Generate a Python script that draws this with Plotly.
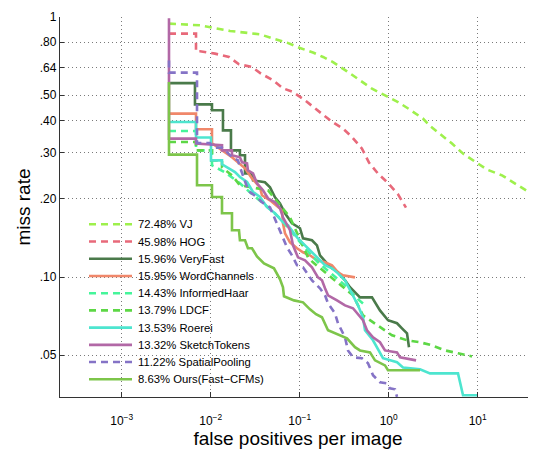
import plotly.graph_objects as go

# ---- data (fppi, miss rate) ----
vj_fppi = [0.0034, 0.00758, 0.01648, 0.0256, 0.0358, 0.0501, 0.072, 0.1008, 0.141, 0.1828, 0.2367, 0.340, 0.476, 0.649, 0.957, 1.272, 1.735, 2.428, 2.911, 3.771, 5.143, 6.84, 9.326, 12.72, 18.76, 24.9, 35.8, 40.7]
vj_miss = [0.943, 0.929, 0.884, 0.868, 0.858, 0.826, 0.797, 0.760, 0.730, 0.702, 0.671, 0.618, 0.571, 0.530, 0.4955, 0.471, 0.440, 0.4066, 0.381, 0.356, 0.326, 0.2983, 0.277, 0.259, 0.246, 0.2313, 0.2142, 0.2099]

hog_fppi = [0.0034, 0.00684, 0.00684, 0.00758, 0.01117, 0.01607, 0.0208, 0.0291, 0.0367, 0.0501, 0.0649, 0.0841, 0.1148, 0.1604, 0.2247, 0.3066, 0.387, 0.501, 0.6007, 0.758, 0.982, 1.272, 1.564]
hog_miss = [0.863, 0.863, 0.738, 0.738, 0.723, 0.702, 0.658, 0.642, 0.606, 0.571, 0.532, 0.5147, 0.478, 0.4377, 0.398, 0.3722, 0.3455, 0.3117, 0.2754, 0.250, 0.2299, 0.208, 0.1849]

veryfast_fppi = [0.0034, 0.00666, 0.00666, 0.01034, 0.01034, 0.01374, 0.01374, 0.0169, 0.0169, 0.0213, 0.0213, 0.0243, 0.0243, 0.0291, 0.0299, 0.0407, 0.0464, 0.0528, 0.0601, 0.0684, 0.0819, 0.1008, 0.109, 0.1374, 0.1564, 0.169, 0.2026, 0.2307, 0.2694, 0.323, 0.3673, 0.476, 0.649, 0.798, 0.982, 1.24, 1.41, 1.606, 1.69]
veryfast_miss = [0.557, 0.557, 0.4614, 0.4614, 0.4377, 0.4377, 0.3665, 0.3665, 0.307, 0.307, 0.294, 0.294, 0.250, 0.250, 0.2355, 0.2313, 0.2213, 0.2026, 0.192, 0.1758, 0.1609, 0.154, 0.1409, 0.1384, 0.1324, 0.1212, 0.1129, 0.108, 0.1043, 0.0971, 0.0913, 0.0835, 0.0835, 0.0744, 0.0682, 0.0664, 0.0635, 0.0607, 0.0537]

wordch_fppi = [0.0034, 0.00684, 0.00684, 0.01034, 0.01034, 0.0134, 0.01735, 0.0243, 0.0291, 0.0358, 0.0377, 0.0464, 0.0633, 0.0649, 0.0684, 0.0778, 0.0933, 0.109, 0.1305, 0.1564, 0.1925, 0.2307, 0.2694, 0.3066, 0.418]
wordch_miss = [0.425, 0.425, 0.370, 0.370, 0.3267, 0.307, 0.2887, 0.2618, 0.2396, 0.2213, 0.2062, 0.1972, 0.1805, 0.1609, 0.1472, 0.136, 0.129, 0.1245, 0.1212, 0.1159, 0.1139, 0.111, 0.1043, 0.1015, 0.0997]

ihaar_fppi = [0.0034, 0.00684, 0.00684, 0.01034, 0.01034, 0.01448, 0.0213, 0.0276, 0.044, 0.0601, 0.0819, 0.1148, 0.1604, 0.219, 0.323, 0.4406, 0.5416]
ihaar_miss = [0.3643, 0.3643, 0.307, 0.307, 0.269, 0.2527, 0.2293, 0.2117, 0.1854, 0.1681, 0.1486, 0.129, 0.1139, 0.1043, 0.0929, 0.0828, 0.0779]

ldcf_fppi = [0.0034, 0.00684, 0.00684, 0.01034, 0.01034, 0.0134, 0.0134, 0.01735, 0.0213, 0.0276, 0.044, 0.0778, 0.1239, 0.141, 0.249, 0.397, 0.514, 0.6663, 1.089, 1.606, 2.247, 3.065, 4.291, 6.007, 8.63]
ldcf_miss = [0.3305, 0.3305, 0.307, 0.307, 0.281, 0.281, 0.2642, 0.246, 0.2253, 0.222, 0.2156, 0.1697, 0.119, 0.1139, 0.0971, 0.0851, 0.0712, 0.0669, 0.0597, 0.0571, 0.0561, 0.0546, 0.0522, 0.0509, 0.0495]

roerei_fppi = [0.0034, 0.00684, 0.00684, 0.01008, 0.01008, 0.0134, 0.0134, 0.01876, 0.0213, 0.0256, 0.0299, 0.0358, 0.0429, 0.0528, 0.0649, 0.074, 0.0933, 0.1061, 0.1239, 0.141, 0.1606, 0.1925, 0.2307, 0.2694, 0.323, 0.3673, 0.4519, 0.514, 0.5416, 0.6663, 0.863, 1.24, 1.448, 2.247, 2.911, 6.007, 6.84, 9.82]
roerei_miss = [0.3947, 0.3947, 0.3438, 0.3438, 0.281, 0.281, 0.2714, 0.2534, 0.2424, 0.2319, 0.2123, 0.2031, 0.1859, 0.1758, 0.1623, 0.158, 0.1421, 0.136, 0.130, 0.1245, 0.118, 0.111, 0.108, 0.1033, 0.0971, 0.0889, 0.0779, 0.070, 0.0624, 0.0571, 0.0487, 0.047, 0.0449, 0.0442, 0.0426, 0.0426, 0.0351, 0.0351]

sketch_fppi = [0.0034, 0.0034, 0.00684, 0.00684, 0.0134, 0.0134, 0.01735, 0.01735, 0.0213, 0.0225, 0.0256, 0.0262, 0.0299, 0.0331, 0.0387, 0.0440, 0.0528, 0.0601, 0.0649, 0.0720, 0.0778, 0.0841, 0.0957, 0.1148, 0.1374, 0.1604, 0.178, 0.1925, 0.208, 0.2625, 0.323, 0.397, 0.4406, 0.514, 0.5705, 0.6663, 0.798, 0.9087, 1.24, 1.34, 2.03]
sketch_miss = [0.99, 0.3405, 0.3405, 0.326, 0.321, 0.307, 0.307, 0.294, 0.2887, 0.276, 0.2737, 0.2573, 0.2505, 0.2293, 0.2156, 0.2008, 0.1938, 0.1837, 0.1697, 0.158, 0.1513, 0.1324, 0.119, 0.1159, 0.109, 0.0997, 0.0971, 0.0905, 0.0850, 0.0813, 0.0778, 0.0758, 0.0725, 0.0682, 0.0624, 0.0586, 0.0561, 0.0522, 0.0513, 0.0491, 0.0478]

spool_fppi = [0.0034, 0.0034, 0.00702, 0.00702, 0.00982, 0.01062, 0.0134, 0.01735, 0.02026, 0.0213, 0.0256, 0.0276, 0.0331, 0.0377, 0.0464, 0.0556, 0.0649, 0.0720, 0.0819, 0.0933, 0.109, 0.1374, 0.169, 0.1925, 0.208, 0.249, 0.2694, 0.323, 0.3489, 0.397, 0.501, 0.5855, 0.6663, 0.798, 0.957, 1.03, 1.177, 1.24]
spool_miss = [0.681, 0.611, 0.611, 0.3275, 0.3275, 0.3145, 0.3145, 0.2894, 0.281, 0.265, 0.222, 0.2123, 0.2026, 0.1938, 0.1854, 0.1609, 0.1409, 0.130, 0.1212, 0.111, 0.109, 0.0971, 0.0905, 0.0851, 0.0792, 0.0725, 0.0664, 0.0586, 0.0522, 0.0491, 0.0487, 0.0466, 0.0419, 0.0394, 0.039, 0.0373, 0.037, 0.0346]

ours_fppi = [0.0034, 0.0034, 0.00702, 0.00702, 0.01034, 0.01034, 0.0134, 0.0134, 0.01735, 0.01735, 0.0208, 0.0213, 0.0243, 0.0262, 0.0291, 0.0331, 0.0397, 0.0514, 0.0601, 0.0649, 0.0666, 0.0863, 0.109, 0.1305, 0.1525, 0.178, 0.208, 0.2625, 0.340, 0.418, 0.476, 0.6165, 0.7018, 0.9087, 0.982, 2.247]
ours_miss = [0.5623, 0.2956, 0.2956, 0.2253, 0.2253, 0.2031, 0.2031, 0.1758, 0.1758, 0.1512, 0.1512, 0.1384, 0.1384, 0.129, 0.129, 0.1201, 0.1129, 0.108, 0.098, 0.0913, 0.0843, 0.0813, 0.0799, 0.0751, 0.0719, 0.070, 0.0624, 0.0602, 0.0581, 0.0537, 0.0522, 0.0513, 0.0478, 0.0457, 0.0438, 0.0438]

legend_names = ["72.48% VJ", "45.98% HOG", "15.96% VeryFast", "15.95% WordChannels",
                "14.43% InformedHaar", "13.79% LDCF", "13.53% Roerei", "13.32% SketchTokens",
                "11.22% SpatialPooling", "8.63% Ours(Fast\u2212CFMs)"]

x_tickvals = [1e-3, 1e-2, 1e-1, 1, 10]
x_ticktext = ["10<sup>\u22123</sup>", "10<sup>\u22122</sup>", "10<sup>\u22121</sup>", "10<sup>0</sup>", "10<sup>1</sup>"]
y_tickvals = [0.05, 0.10, 0.20, 0.30, 0.40, 0.50, 0.64, 0.80, 1.0]
y_ticktext = [".05", ".10", ".20", ".30", ".40", ".50", ".64", ".80", "1"]

DASH = "7px,5px"
series = [
    (vj_fppi, vj_miss, "#9ef04c", DASH),
    (hog_fppi, hog_miss, "#e8697a", DASH),
    (veryfast_fppi, veryfast_miss, "#4a7a4a", "solid"),
    (wordch_fppi, wordch_miss, "#f0876a", "solid"),
    (ihaar_fppi, ihaar_miss, "#45f59a", DASH),
    (ldcf_fppi, ldcf_miss, "#5dd745", DASH),
    (roerei_fppi, roerei_miss, "#4de5cf", "solid"),
    (sketch_fppi, sketch_miss, "#b268a6", "solid"),
    (spool_fppi, spool_miss, "#8573c6", DASH),
    (ours_fppi, ours_miss, "#7dc54a", "solid"),
]

# geometry: the page body adds an 8px offset, so margins are set to land the
# axes at the reference's window pixels (plot area x 60..536, y 17..397)
W, H = 536, 449
OFF = 8
ML, MR, MT, MB = 60 - OFF, OFF, 17 - OFF, 60
PW, PH = W - ML - MR, H - MT - MB   # 476 x 380

fig = go.Figure()
for name, (xs, ys, color, dash) in zip(legend_names, series):
    fig.add_trace(go.Scatter(x=xs, y=ys, mode="lines", name=name, showlegend=False,
                             line=dict(color=color, width=2.6, dash=dash)))

# legend drawn inside the axes, MATLAB style (line sample + label)
shapes, annos = [], []
for i, (name, (_, _, color, dash)) in enumerate(zip(legend_names, series)):
    py = 224.3 + i * 17.22          # window pixel row of entry
    yp = 1 - (py - 17) / PH
    shapes.append(dict(type="line", xref="paper", yref="paper",
                       x0=(89 - 60) / PW, x1=(132 - 60) / PW, y0=yp, y1=yp,
                       line=dict(color=color, width=2.6, dash=dash)))
    annos.append(dict(xref="paper", yref="paper", x=(136 - 60) / PW, y=yp,
                      xanchor="left", yanchor="middle", showarrow=False,
                      text=name, font=dict(size=11.3, color="black")))

fig.update_layout(
    width=W, height=H,
    margin=dict(l=ML, r=MR, t=MT, b=MB, autoexpand=False),
    paper_bgcolor="white", plot_bgcolor="white",
    font=dict(family="Liberation Sans, Arial, Helvetica, sans-serif", size=12, color="black"),
    showlegend=False,
    shapes=shapes, annotations=annos,
)
fig.update_xaxes(
    type="log", range=[-3.693, 1.655], automargin=False,
    tickvals=x_tickvals, ticktext=x_ticktext, ticklabelstandoff=12,
    showline=True, linecolor="#333333", linewidth=1.3,
    ticks="inside", ticklen=5, tickcolor="#333333",
    showgrid=True, gridcolor="#7a7a7a", gridwidth=1, griddash="1px,3px",
    zeroline=False,
    title=dict(text="false positives per image", font=dict(size=19), standoff=0),
)
fig.update_yaxes(
    type="log", range=[-1.4615, 0], automargin=False,
    tickvals=y_tickvals, ticktext=y_ticktext,
    showline=True, linecolor="#333333", linewidth=1.3,
    ticks="inside", ticklen=4, tickcolor="#333333",
    showgrid=True, gridcolor="#7a7a7a", gridwidth=1, griddash="1px,3px",
    zeroline=False,
    title=dict(text="miss rate", font=dict(size=19), standoff=4),
)

fig.write_html("out.html")
